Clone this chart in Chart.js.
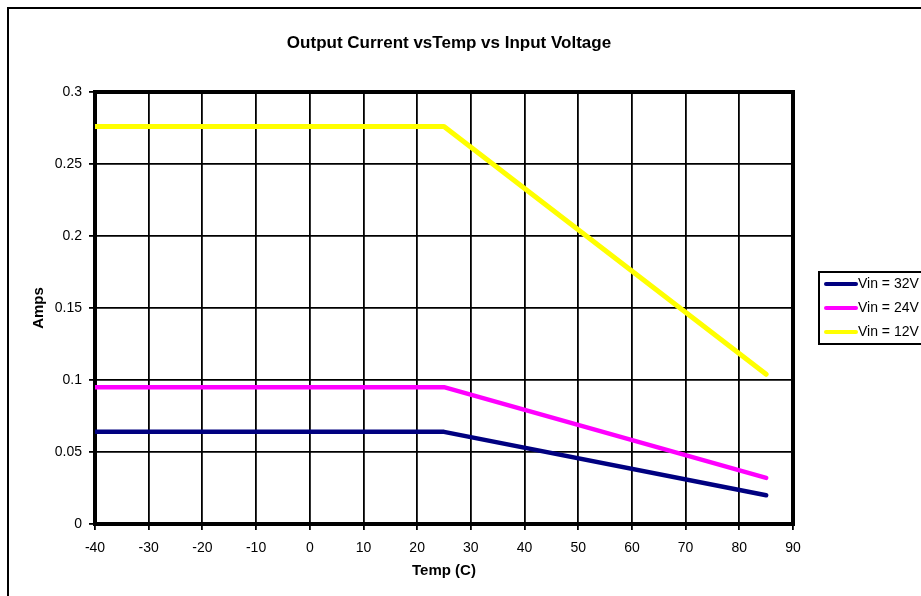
<!DOCTYPE html>
<html>
<head>
<meta charset="utf-8">
<script src="https://cdn.jsdelivr.net/npm/chart.js@4/dist/chart.umd.min.js"></script>
<style>
  body { margin: 0; background: #fff; }
  canvas { display: block; }
</style>
</head>
<body>
<canvas id="chart" width="921" height="596"></canvas>
<script>
const temps = [-40, 25, 85];
const vin32 = [0.064, 0.064, 0.020];
const vin24 = [0.095, 0.095, 0.032];
const vin12 = [0.276, 0.276, 0.104];
const seriesNames = ['Vin = 32V', 'Vin = 24V', 'Vin = 12V'];
const titleText = 'Output Current vsTemp vs Input Voltage';

const FONT = "'Liberation Sans', Arial, sans-serif";

const pts = arr => temps.map((t, i) => ({ x: t, y: arr[i] }));

// page frame, title, plot frame and legend box
const decor = {
  id: 'decor',
  beforeDraw(c) {
    const ctx = c.ctx;
    ctx.save();
    ctx.fillStyle = '#fff';
    ctx.fillRect(0, 0, c.width, c.height);
    ctx.strokeStyle = '#000';
    ctx.lineWidth = 2;
    ctx.strokeRect(8, 8, 940, 620);
    ctx.fillStyle = '#000';
    ctx.font = 'bold 17px ' + FONT;
    ctx.textAlign = 'center';
    ctx.textBaseline = 'middle';
    ctx.fillText(titleText, 449, 43);
    ctx.restore();
  },
  beforeDatasetsDraw(c) {
    const { left, top, right, bottom } = c.chartArea;
    const ctx = c.ctx;
    ctx.save();
    ctx.strokeStyle = '#000';
    ctx.lineWidth = 4;
    ctx.strokeRect(left, top, right - left, bottom - top);
    ctx.restore();
  },
  afterDraw(c) {
    const ctx = c.ctx;
    ctx.save();
    ctx.strokeStyle = '#000';
    ctx.lineWidth = 2;
    ctx.strokeRect(819, 272, 120, 72);
    ctx.font = '14px ' + FONT;
    ctx.textAlign = 'left';
    ctx.textBaseline = 'middle';
    c.data.datasets.forEach((ds, i) => {
      const y = 284 + i * 24;
      ctx.strokeStyle = ds.borderColor;
      ctx.lineWidth = 4;
      ctx.lineCap = 'round';
      ctx.beginPath();
      ctx.moveTo(826, y);
      ctx.lineTo(856, y);
      ctx.stroke();
      ctx.fillStyle = '#000';
      ctx.fillText(ds.label, 858, y);
    });
    ctx.restore();
  }
};

new Chart(document.getElementById('chart'), {
  type: 'line',
  data: {
    datasets: [
      { label: seriesNames[0], data: pts(vin32), borderColor: '#000080', borderWidth: 4.5 },
      { label: seriesNames[1], data: pts(vin24), borderColor: '#FF00FF', borderWidth: 4.5 },
      { label: seriesNames[2], data: pts(vin12), borderColor: '#FFFF00', borderWidth: 5 }
    ]
  },
  options: {
    responsive: false,
    animation: false,
    layout: { padding: { left: 0, top: 92, right: 128, bottom: 0 } },
    elements: {
      point: { radius: 0 },
      line: { tension: 0, borderCapStyle: 'round', borderJoinStyle: 'round' }
    },
    plugins: { legend: { display: false }, title: { display: false }, tooltip: { enabled: false } },
    scales: {
      x: {
        type: 'linear',
        min: -40, max: 90,
        afterFit: s => { s.height = 72; },
        border: { display: false },
        grid: { color: '#000', lineWidth: 1.8, tickLength: 6, tickColor: '#000' },
        ticks: { stepSize: 10, maxRotation: 0, color: '#000', font: { family: FONT, size: 14 }, padding: 10 },
        title: { display: true, text: 'Temp (C)', color: '#000', font: { family: FONT, size: 15, weight: 'bold' }, padding: { bottom: 16 } }
      },
      y: {
        min: 0, max: 0.3,
        afterFit: s => { s.width = 95; },
        border: { display: false },
        grid: { color: '#000', lineWidth: 1.8, tickLength: 6, tickColor: '#000' },
        ticks: { stepSize: 0.05, color: '#000', font: { family: FONT, size: 14 }, padding: 7, callback: v => String(+v.toFixed(2)) },
        title: { display: true, text: 'Amps', color: '#000', font: { family: FONT, size: 15, weight: 'bold' }, padding: { top: 30 } }
      }
    }
  },
  plugins: [decor]
});
</script>
</body>
</html>
